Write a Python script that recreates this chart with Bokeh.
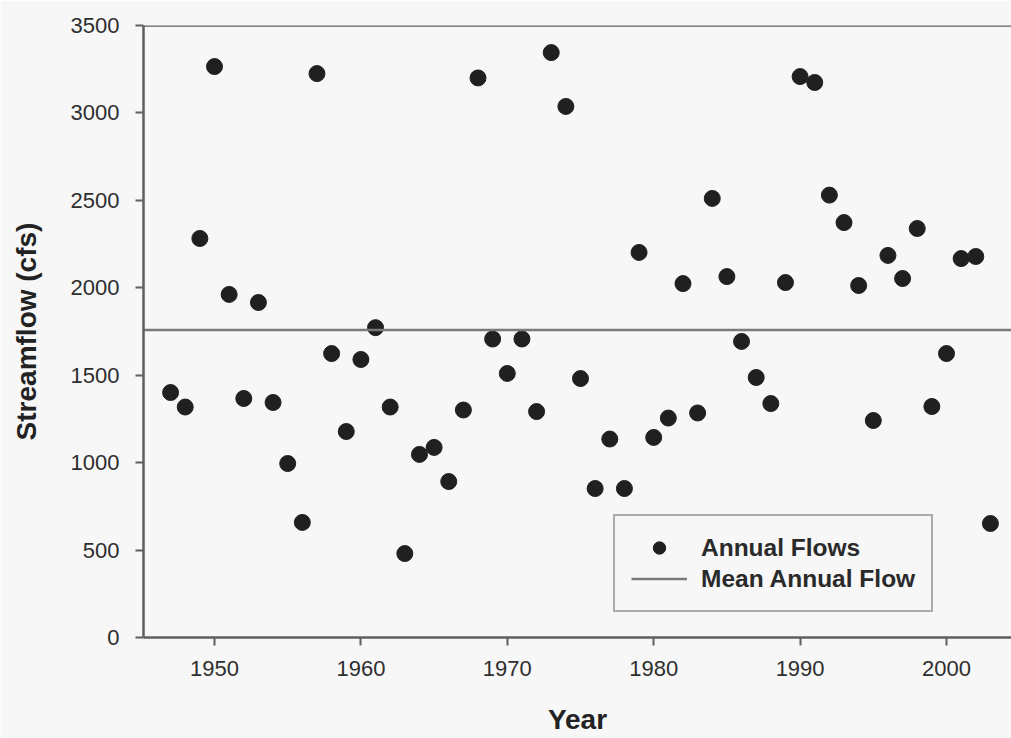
from bokeh.plotting import figure
from bokeh.models import (Range1d, Span, Legend, LegendItem, FixedTicker,
                          ColumnDataSource)
from bokeh.embed import file_html
from bokeh.resources import INLINE

# Annual streamflow record (cfs)
years = list(range(1947, 2004))
annual_flows = [
    1401, 1318, 2282, 3265, 1962, 1367, 1916, 1344, 995, 658,
    3225, 1624, 1178, 1590, 1772, 1318, 480, 1047, 1087, 892,
    1301, 3200, 1707, 1510, 1707, 1292, 3345, 3037, 1481, 852,
    1135, 852, 2202, 1144, 1255, 2024, 1284, 2511, 2064, 1693,
    1487, 1338, 2030, 3208, 3174, 2530, 2373, 2013, 1241, 2185,
    2053, 2339, 1321, 1624, 2167, 2179, 652,
]
mean_flow = 1758

x_ticks = [1950, 1960, 1970, 1980, 1990, 2000]
y_ticks = [0, 500, 1000, 1500, 2000, 2500, 3000, 3500]

FONT = "Liberation Sans"
BG = "#f7f7f7"
AXIS = "#5f5f5f"

p = figure(width=1011, height=738, output_backend="svg", toolbar_location=None,
           x_range=Range1d(1945.15, 2004.44), y_range=Range1d(0, 3500),
           min_border_left=143, min_border_right=0, min_border_top=25,
           min_border_bottom=101)
p.background_fill_color = BG
p.border_fill_color = BG
p.outline_line_color = None
p.grid.visible = False

src = ColumnDataSource(data=dict(year=years, flow=annual_flows))
pts = p.scatter("year", "flow", source=src, size=16, fill_color="#202020",
                line_color="#202020", line_width=1)

# mean annual flow and the top frame edge
mean_r = p.line(x=[1945.15, 2004.44], y=[mean_flow, mean_flow],
                line_color="#7a7a7a", line_width=2.5)
p.add_layout(Span(location=3500, dimension="width", line_color=AXIS,
                  line_width=2.5))

for ax in (p.xaxis[0], p.yaxis[0]):
    ax.axis_line_color = AXIS
    ax.axis_line_width = 2.5
    ax.major_tick_line_color = AXIS
    ax.major_tick_line_width = 2
    ax.major_tick_out = 8
    ax.major_tick_in = 0
    ax.minor_tick_line_color = None
    ax.major_label_text_font = FONT
    ax.major_label_text_font_size = "22px"
    ax.major_label_text_color = "#2e2e2e"
    ax.axis_label_text_font = FONT
    ax.axis_label_text_font_size = "28px"
    ax.axis_label_text_font_style = "bold"
    ax.axis_label_text_color = "#222222"

p.xaxis.ticker = FixedTicker(ticks=x_ticks)
p.yaxis.ticker = FixedTicker(ticks=y_ticks)
p.xaxis.axis_label = "Year"
p.yaxis.axis_label = "Streamflow (cfs)"
p.xaxis.major_label_standoff = 15
p.yaxis.major_label_standoff = 16
p.xaxis.axis_label_standoff = 25
p.yaxis.axis_label_standoff = 26

legend = Legend(items=[LegendItem(label="Annual Flows", renderers=[pts]),
                       LegendItem(label="Mean Annual Flow", renderers=[mean_r])],
                location=(470, 25), orientation="vertical")
legend.label_text_font = FONT
legend.label_text_font_size = "24.5px"
legend.label_text_font_style = "bold"
legend.label_text_color = "#2a2a2a"
legend.glyph_width = 56
legend.glyph_height = 31
legend.label_height = 31
legend.spacing = 0
legend.padding = 16
legend.margin = 0
legend.label_standoff = 14
legend.border_line_color = AXIS
legend.border_line_width = 2.5
legend.background_fill_color = BG
legend.background_fill_alpha = 1.0
p.add_layout(legend)

open("out.html", "w").write(file_html(p, INLINE))
